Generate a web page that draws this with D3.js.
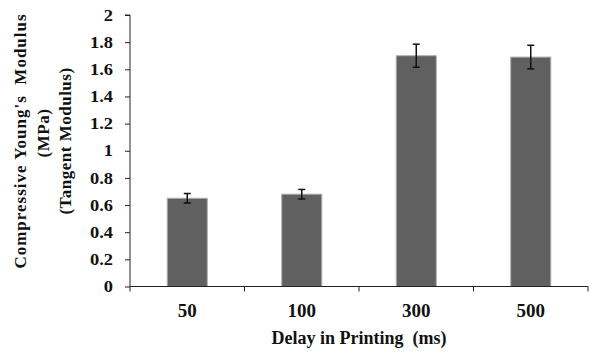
<!DOCTYPE html>
<html>
<head>
<meta charset="utf-8">
<script src="https://cdn.jsdelivr.net/npm/d3@7"></script>
<style>
  html, body { margin: 0; padding: 0; background: #fff; }
  svg text { font-family: "Liberation Serif", "Times New Roman", serif; font-weight: bold; fill: #111; }
</style>
</head>
<body>
<svg id="chart" width="597" height="356"></svg>
<script>
// Delay between printed layers (ms) and the measured tangent modulus (MPa)
const delays = ["50", "100", "300", "500"];
const modulus = [0.65, 0.68, 1.70, 1.69];
const modulusErr = [0.035, 0.035, 0.085, 0.087];
const yTicks = [0, 0.2, 0.4, 0.6, 0.8, 1, 1.2, 1.4, 1.6, 1.8, 2];
const yTitleLines = ["Compressive Young's  Modulus", "(MPa)", "(Tangent Modulus)"];
const xTitle = "Delay in Printing  (ms)";

const svg = d3.select("#chart");
const margin = { left: 130, right: 9, top: 15, bottom: 70 };
const W = 597, H = 356;

const x = d3.scaleBand()
  .domain(delays)
  .range([margin.left, W - margin.right])
  .paddingInner(0.65)
  .paddingOuter(0.325);

const y = d3.scaleLinear()
  .domain([0, 2])
  .range([H - margin.bottom + 0.5, margin.top]);

// Bars
svg.append("g").selectAll("rect")
  .data(delays)
  .join("rect")
  .attr("x", d => x(d))
  .attr("width", x.bandwidth())
  .attr("y", (d, i) => y(modulus[i]))
  .attr("height", (d, i) => y(0) - y(modulus[i]))
  .attr("fill", "#606060")
  .attr("stroke", "#b0b0b0")
  .attr("stroke-width", 1);

// Error bars
const eb = svg.append("g").attr("stroke", "#111").attr("stroke-width", 1.5);
delays.forEach((d, i) => {
  const cx = x(d) + x.bandwidth() / 2;
  const y1 = y(modulus[i] + modulusErr[i]);
  const y2 = y(modulus[i] - modulusErr[i]);
  eb.append("line").attr("x1", cx).attr("x2", cx).attr("y1", y1).attr("y2", y2);
  eb.append("line").attr("x1", cx - 3.5).attr("x2", cx + 3.5).attr("y1", y1).attr("y2", y1);
  eb.append("line").attr("x1", cx - 3.5).attr("x2", cx + 3.5).attr("y1", y2).attr("y2", y2);
});

// Y axis
const yAxis = svg.append("g")
  .attr("transform", `translate(${margin.left},0)`)
  .call(d3.axisLeft(y).tickValues(yTicks).tickSize(5).tickFormat(d3.format("")));
yAxis.select(".domain").attr("stroke", "#222").attr("d", `M-5,${y(2)}H0V${y(0)}`);
yAxis.selectAll(".tick line").attr("stroke", "#222");
// labels are drawn a little wide: right-aligned at x=113 and stretched horizontally
yAxis.selectAll(".tick text")
  .attr("x", null)
  .attr("transform", "translate(-17,0) scale(1.15,1)")
  .style("font-size", "16px")
  .attr("fill", "#111");

// X axis: ticks on category boundaries
const xAxisG = svg.append("g").attr("transform", `translate(0,${y(0)})`);
xAxisG.append("line")
  .attr("x1", margin.left).attr("x2", W - margin.right)
  .attr("stroke", "#222");
const step = x.step();
const bounds = d3.range(delays.length + 1).map(i => margin.left + i * step);
xAxisG.selectAll(".bt").data(bounds).join("line")
  .attr("x1", d => d).attr("x2", d => d).attr("y1", 0).attr("y2", 5)
  .attr("stroke", "#222");
xAxisG.selectAll(".lbl").data(delays).join("text")
  .attr("x", d => x(d) + x.bandwidth() / 2)
  .attr("y", 30)
  .attr("text-anchor", "middle")
  .style("font-size", "19px")
  .text(d => d);

// Axis titles
svg.append("text")
  .attr("x", 359)
  .attr("y", 344)
  .attr("text-anchor", "middle")
  .style("font-size", "18px")
  .style("white-space", "pre")
  .text(xTitle);

const yCenters = [141, 133, 141];
const yBaselines = [26, 48.5, 71];
yTitleLines.forEach((t, i) => {
  svg.append("text")
    .attr("transform", `translate(${yBaselines[i]},${yCenters[i]}) rotate(-90)`)
    .attr("text-anchor", "middle")
    .style("font-size", "17px")
    .style("white-space", "pre")
    .style("letter-spacing", i === 0 ? "1px" : "0.5px")
    .text(t);
});
</script>
</body>
</html>
